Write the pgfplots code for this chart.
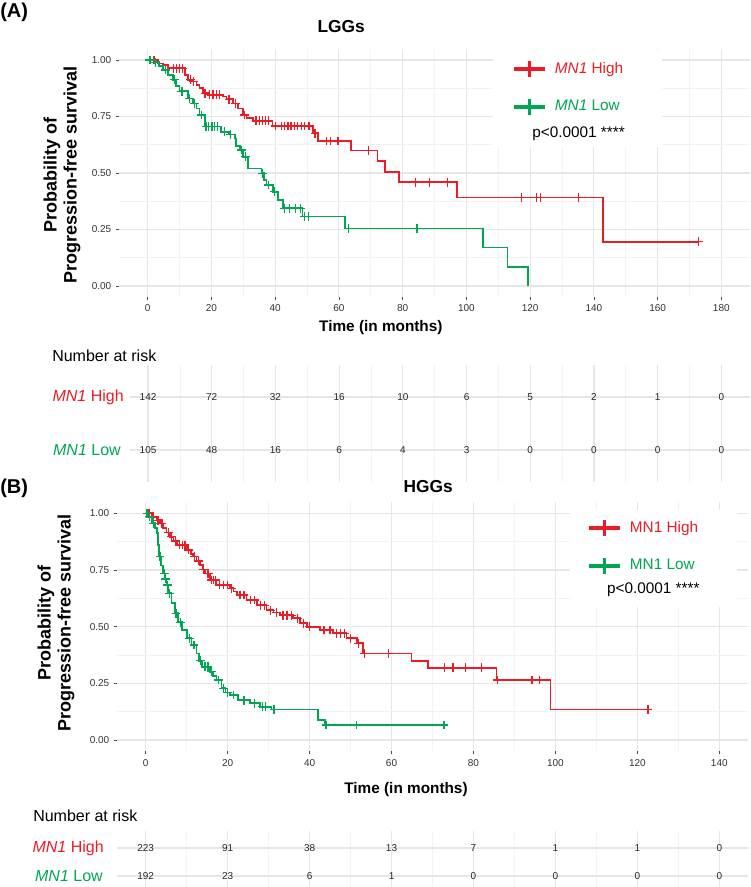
\documentclass[border=0pt]{standalone}
\usepackage{fontspec}
\setmainfont{Liberation Sans}
\usepackage{pgfplots}
\pgfplotsset{compat=1.18}

\definecolor{kmred}{RGB}{237,28,36}
\definecolor{kmgreen}{RGB}{0,166,81}
\definecolor{gridmaj}{RGB}{230,230,230}
\definecolor{gridmin}{RGB}{243,243,243}

\pgfplotsset{
  kmbase/.style={
    scale only axis,
    axis line style={draw=none},
    tick align=outside, major tick length=2.25pt, minor tick length=0pt,
    xtick pos=bottom, ytick pos=left,
    tick style={black!70, line width=0.5pt},
    grid=both,
    major grid style={gridmaj, line width=0.9pt},
    minor grid style={gridmin, line width=0.5pt},
    minor x tick num=1,
  },
  km/.style={
    kmbase, width=473.25pt,
    minor y tick num=1,
    ymin=-0.05, ymax=1.05,
    ytick={0,0.25,0.5,0.75,1},
    yticklabels={0.00,0.25,0.50,0.75,1.00},
    ticklabel style={font=\fontsize{7.5}{8.5}\selectfont, text=black!80},
    /pgf/number format/assume math mode=true,
    xlabel={Time (in months)},
    ylabel={Probability of\\Progression-free survival},
    xlabel style={anchor=center, font=\bfseries\fontsize{11.5}{13}\selectfont},
    ylabel style={anchor=center, align=center, font=\bfseries\fontsize{13.5}{15}\selectfont},
    title style={anchor=center, font=\bfseries\fontsize{13}{15}\selectfont},
    legend cell align=left,
    legend image code/.code={
      \draw[line width=3pt] (0pt,0pt) -- (23pt,0pt);
      \draw[line width=2pt] (11.5pt,-6pt) -- (11.5pt,6pt);
    },
    legend style={anchor=north west, draw=none, fill=none, inner sep=0pt,
      row sep=14.5pt, font=\fontsize{11.5}{13}\selectfont,
      /tikz/every odd column/.append style={column sep=4pt}},
  },
  curve/.style={const plot, line width=1.3pt},
  cens/.style={only marks, mark=+, mark size=3.3pt, mark options={line width=0.9pt}, forget plot},
  risk/.style={
    kmbase, ytick={1,2}, ymin=0.4, ymax=2.6,
    xticklabel=\empty, yticklabel=\empty,
    major tick length=0pt,
    nodes near coords, point meta=explicit symbolic,
    nodes near coords style={anchor=center, font=\fontsize{7.5}{8.5}\selectfont, text=black!85},
  },
}

\begin{document}
\begin{tikzpicture}
\useasboundingbox (0pt,0pt) rectangle (562.5pt,-665.25pt);

% ---------------- (A) LGGs ----------------
\begin{axis}[km, height=186.45pt, at={(89.25pt,-222.98pt)}, anchor=south west,
  xmin=-9, xmax=189, xtick={0,20,...,180},
  title={LGGs}, title style={at={(axis description cs:0.352,1.055)}},
  xlabel style={at={(axis description cs:0.415,-0.1235)}},
  ylabel style={at={(axis description cs:-0.0903,0.492)}},
  legend style={at={(axis description cs:0.6228,0.9586)}},
]
\fill[white] (axis cs:108.3,0.615) rectangle (axis cs:161.4,1.044);
\addplot[curve, kmred] coordinates {
 (0,1.000) (3.3,0.985) (4.8,0.978) (6.4,0.963) (11.6,0.934) (12.7,0.912)
 (14.0,0.905) (15.3,0.890) (16.3,0.875) (17.4,0.853) (19.0,0.846) (23.6,0.838)
 (24.7,0.826) (26.8,0.808) (28.4,0.786) (29.9,0.757) (31.0,0.742) (33.1,0.731)
 (39.2,0.708) (51.9,0.676) (53.5,0.642) (63.7,0.599) (72.1,0.553) (74.4,0.506)
 (78.9,0.459) (97.1,0.392) (142.9,0.196) (172.8,0.196)
};
\addlegendentry{\textcolor{kmred}{\textit{MN1} High}}
\addplot[curve, kmgreen] coordinates {
 (0,1.000) (2.0,0.990) (3.5,0.975) (4.8,0.956) (6.3,0.935) (7.9,0.912)
 (9.0,0.885) (10.0,0.862) (12.7,0.830) (14.2,0.808) (15.3,0.785) (16.3,0.757)
 (17.9,0.706) (23.1,0.683) (25.5,0.670) (27.3,0.653) (27.8,0.620) (28.9,0.602)
 (30.0,0.572) (31.5,0.520) (35.7,0.499) (36.5,0.470) (37.3,0.447) (39.3,0.417)
 (40.9,0.381) (42.5,0.344) (48.6,0.307) (61.9,0.255) (105.3,0.170) (112.9,0.085)
 (119.4,0.000)
};
\addlegendentry{\textcolor{kmgreen}{\textit{MN1} Low}}
\addplot[cens, kmred] coordinates {
 (1,1) (2,1) (8,0.963) (9,0.963) (10,0.963) (11,0.963) (13.5,0.912) (14.5,0.905)
 (18,0.853) (19.5,0.846) (20.5,0.846) (21.5,0.846) (22.5,0.846) (25.5,0.826)
 (27.5,0.808) (30.5,0.757) (34,0.731) (35,0.731) (36,0.731) (37,0.731) (38,0.731)
 (40,0.708) (42,0.708) (43,0.708) (44,0.708) (45,0.708) (46,0.708) (47,0.708)
 (48.2,0.708) (49.2,0.708) (50.6,0.708) (52.5,0.676) (56.1,0.642) (57.3,0.642)
 (59.7,0.642) (69.2,0.599) (84.1,0.459) (88.5,0.459) (94.1,0.459)
 (117.3,0.392) (122,0.392) (123.3,0.392) (135.1,0.392) (172.8,0.196)
};
\addplot[cens, kmgreen] coordinates {
 (0.5,1) (1,1) (2.5,0.990) (5.5,0.956) (8.3,0.912) (10.5,0.862) (11.0,0.862)
 (13.2,0.830) (14.6,0.808) (16.8,0.757) (18.3,0.706) (19.2,0.706) (20.2,0.706)
 (21.0,0.706) (22.0,0.706) (24.0,0.683) (26.0,0.670) (29.4,0.602) (30.6,0.572)
 (36.0,0.499) (37.8,0.447) (39.8,0.417) (43.0,0.344) (44.4,0.344) (46.5,0.344)
 (48.0,0.344) (49.3,0.307) (50.4,0.307) (62.9,0.255) (84.5,0.255)
};
\node[font=\fontsize{11.5}{13}\selectfont] at (axis cs:135.2,0.672) {p<0.0001 ****};
\end{axis}

% risk table A
\begin{axis}[risk, width=464.85pt, height=87.45pt, at={(97.65pt,-361.35pt)}, anchor=south west,
  xmin=-5.6, xmax=189, xtick={0,20,...,180}]
\addplot[draw=none] coordinates {
 (0,2)[142] (20,2)[72] (40,2)[32] (60,2)[16] (80,2)[10]
 (100,2)[6] (120,2)[5] (140,2)[2] (160,2)[1] (180,2)[0]
};
\addplot[draw=none] coordinates {
 (0,1)[105] (20,1)[48] (40,1)[16] (60,1)[6] (80,1)[4]
 (100,1)[3] (120,1)[0] (140,1)[0] (160,1)[0] (180,1)[0]
};
\end{axis}

% ---------------- (B) HGGs ----------------
\begin{axis}[km, height=187pt, at={(87.75pt,-563.5pt)}, anchor=south west,
  xmin=-7, xmax=147, xtick={0,20,...,140},
  title={HGGs}, title style={at={(axis description cs:0.493,1.028)}},
  xlabel style={at={(axis description cs:0.458,-0.155)}},
  ylabel style={at={(axis description cs:-0.0967,0.515)}},
  legend style={at={(axis description cs:0.7449,0.9358)}},
]
\fill[white] (axis cs:103.5,0.587) rectangle (axis cs:144.2,1.015);
\addplot[curve, kmred] coordinates {
 (0,1.000) (1.5,0.985) (2.7,0.970) (3.5,0.955) (4.3,0.934) (5.1,0.915)
 (5.9,0.897) (6.8,0.878) (7.6,0.860) (10.0,0.838) (11.0,0.822) (11.6,0.809)
 (12.4,0.790) (13.2,0.772) (13.9,0.752) (14.5,0.735) (15.7,0.706) (17.3,0.684)
 (20.6,0.669) (21.4,0.655) (22.2,0.640) (24.6,0.618) (27.1,0.595) (29.5,0.573)
 (31.2,0.562) (32.8,0.551) (36.0,0.537) (37.6,0.515) (39.3,0.500) (42.5,0.485)
 (45.8,0.471) (49.0,0.449) (51.5,0.427) (53.1,0.382) (64.9,0.348) (68.9,0.319)
 (85.6,0.265) (98.8,0.135) (122.6,0.135)
};
\addlegendentry{\textcolor{kmred}{MN1 High}}
\addplot[curve, kmgreen] coordinates {
 (0,1.000) (0.8,0.985) (1.5,0.956) (2.2,0.935) (2.7,0.912) (3.0,0.860)
 (3.3,0.809) (3.8,0.770) (4.3,0.735) (4.7,0.710) (5.1,0.684) (5.5,0.647)
 (6.3,0.603) (7.1,0.559) (7.9,0.520) (8.8,0.485) (10.0,0.449) (11.2,0.419)
 (12.4,0.382) (13.1,0.350) (13.7,0.323) (15.7,0.301) (16.5,0.283) (17.3,0.265)
 (18.5,0.228) (19.5,0.210) (20.6,0.199) (22.6,0.176) (25.4,0.162) (27.9,0.147)
 (30.7,0.135) (42.1,0.088) (43.7,0.066) (72.8,0.066)
};
\addlegendentry{\textcolor{kmgreen}{MN1 Low}}
\addplot[cens, kmred] coordinates {
 (0.3,1) (0.8,1) (2.0,0.985) (3.0,0.970) (4.0,0.955) (5.5,0.915) (6.3,0.897)
 (7.2,0.878) (8.3,0.860) (9.0,0.860) (9.6,0.860) (10.5,0.838) (12.0,0.809)
 (12.8,0.790) (14.2,0.752) (15.0,0.735) (15.3,0.735) (16.0,0.706) (16.5,0.706)
 (17.0,0.706) (18.0,0.684) (19.0,0.684) (20.0,0.684) (21.0,0.669) (23.0,0.640)
 (24.0,0.640) (25.5,0.618) (26.5,0.618) (28.0,0.595) (29.0,0.595) (30.5,0.573)
 (32.0,0.562) (33.5,0.551) (34.5,0.551) (35.5,0.551) (37.0,0.537) (38.5,0.515)
 (40.0,0.500) (43.5,0.485) (45.0,0.485) (46.5,0.471) (47.5,0.471) (48.5,0.471)
 (50.0,0.449) (52.0,0.427) (53.5,0.382) (59.2,0.382) (73.0,0.319) (75.0,0.319)
 (78.1,0.319) (81.9,0.319) (85.8,0.265) (94.3,0.265) (96.2,0.265) (122.6,0.135)
};
\addplot[cens, kmgreen] coordinates {
 (0.3,1) (1.0,0.985) (2.0,0.956) (3.5,0.809) (4.5,0.735) (4.9,0.710) (5.3,0.684)
 (5.8,0.647) (7.4,0.559) (8.4,0.520) (10.6,0.449) (11.8,0.419) (13.4,0.350)
 (14.5,0.323) (15.2,0.323) (16.0,0.301) (17.8,0.265) (19.0,0.228) (20.0,0.210)
 (21.5,0.199) (24.0,0.176) (26.5,0.162) (28.5,0.147) (29.3,0.147) (31.3,0.135)
 (44.0,0.066) (51.5,0.066) (72.8,0.066)
};
\node[font=\fontsize{11.5}{13}\selectfont] at (axis cs:123.9,0.662) {p<0.0001 ****};
\end{axis}

% risk table B
\begin{axis}[risk, width=473.25pt, height=46.2pt, at={(87.75pt,-669.6pt)}, anchor=south west,
  xmin=-7, xmax=147, xtick={0,20,...,140}]
\addplot[draw=none] coordinates {
 (0,2)[223] (20,2)[91] (40,2)[38] (60,2)[13]
 (80,2)[7] (100,2)[1] (120,2)[1] (140,2)[0]
};
\addplot[draw=none] coordinates {
 (0,1)[192] (20,1)[23] (40,1)[6] (60,1)[1]
 (80,1)[0] (100,1)[0] (120,1)[0] (140,1)[0]
};
\end{axis}

% panel letters and risk table labels (positions in reference pixels)
\begin{scope}[x=0.75pt, y=-0.75pt]
\node[anchor=west, inner sep=0pt, font=\bfseries\fontsize{15}{17}\selectfont] at (0,12) {(A)};
\node[anchor=west, inner sep=0pt, font=\bfseries\fontsize{15}{17}\selectfont] at (0,488) {(B)};
\node[anchor=west, inner sep=0pt, font=\fontsize{12}{14}\selectfont] at (52,356) {Number at risk};
\node[anchor=east, inner sep=0pt, font=\fontsize{12}{14}\selectfont, text=kmred] at (124,397) {\textit{MN1} High};
\node[anchor=east, inner sep=0pt, font=\fontsize{12}{14}\selectfont, text=kmgreen] at (121,450) {\textit{MN1} Low};
\node[anchor=west, inner sep=0pt, font=\fontsize{12}{14}\selectfont] at (33,816) {Number at risk};
\node[anchor=east, inner sep=0pt, font=\fontsize{12}{14}\selectfont, text=kmred] at (104,848) {\textit{MN1} High};
\node[anchor=east, inner sep=0pt, font=\fontsize{12}{14}\selectfont, text=kmgreen] at (103,876) {\textit{MN1} Low};
\end{scope}
\end{tikzpicture}
\end{document}
